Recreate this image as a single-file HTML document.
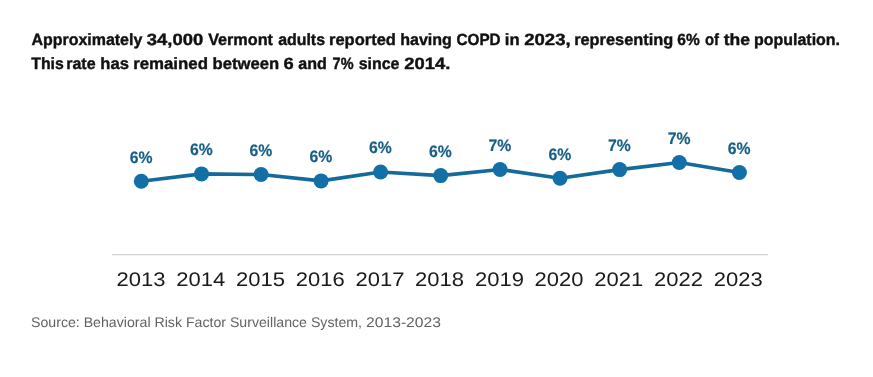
<!DOCTYPE html>
<html><head><meta charset="utf-8"><style>
html,body{margin:0;padding:0;background:#fff;width:873px;height:377px;overflow:hidden}
svg{display:block;will-change:transform;text-rendering:geometricPrecision}
.t{font-family:"Liberation Sans",sans-serif;font-weight:bold;font-size:16.3px;fill:#111;stroke:#111;stroke-width:0.4}
.dl{font-family:"Liberation Sans",sans-serif;font-weight:bold;font-size:16.6px;fill:#175f86;stroke:#175f86;stroke-width:0.2}
.yr{font-family:"Liberation Sans",sans-serif;font-size:19.6px;fill:#1a1a1a}
.src{font-family:"Liberation Sans",sans-serif;font-size:14px;fill:#626262}
</style></head><body>
<svg width="873" height="377" viewBox="0 0 873 377">
<g class="t">
<text x="31.41" y="45" textLength="110.89" lengthAdjust="spacingAndGlyphs">Approximately</text>
<text x="146.86" y="45" textLength="56.31" lengthAdjust="spacingAndGlyphs">34,000</text>
<text x="208.14" y="45" textLength="64.85" lengthAdjust="spacingAndGlyphs">Vermont</text>
<text x="278.17" y="45" textLength="46.86" lengthAdjust="spacingAndGlyphs">adults</text>
<text x="329.02" y="45" textLength="66.85" lengthAdjust="spacingAndGlyphs">reported</text>
<text x="400.19" y="45" textLength="51.69" lengthAdjust="spacingAndGlyphs">having</text>
<text x="456.54" y="45" textLength="44.09" lengthAdjust="spacingAndGlyphs">COPD</text>
<text x="504.87" y="45" textLength="14.74" lengthAdjust="spacingAndGlyphs">in</text>
<text x="524.22" y="45" textLength="46.47" lengthAdjust="spacingAndGlyphs">2023,</text>
<text x="574.17" y="45" textLength="99.01" lengthAdjust="spacingAndGlyphs">representing</text>
<text x="677.29" y="45" textLength="22.41" lengthAdjust="spacingAndGlyphs">6%</text>
<text x="705.03" y="45" textLength="14.03" lengthAdjust="spacingAndGlyphs">of</text>
<text x="723.75" y="45" textLength="26.28" lengthAdjust="spacingAndGlyphs">the</text>
<text x="754.04" y="45" textLength="85.97" lengthAdjust="spacingAndGlyphs">population.</text>
<text x="31.29" y="69" textLength="32.52" lengthAdjust="spacingAndGlyphs">This</text>
<text x="66.19" y="69" textLength="29.39" lengthAdjust="spacingAndGlyphs">rate</text>
<text x="100.33" y="69" textLength="28.58" lengthAdjust="spacingAndGlyphs">has</text>
<text x="133.16" y="69" textLength="74.8" lengthAdjust="spacingAndGlyphs">remained</text>
<text x="212.62" y="69" textLength="66.51" lengthAdjust="spacingAndGlyphs">between</text>
<text x="283.63" y="69" textLength="10.21" lengthAdjust="spacingAndGlyphs">6</text>
<text x="298.29" y="69" textLength="28.57" lengthAdjust="spacingAndGlyphs">and</text>
<text x="332.61" y="69" textLength="20.93" lengthAdjust="spacingAndGlyphs">7%</text>
<text x="358.64" y="69" textLength="40.83" lengthAdjust="spacingAndGlyphs">since</text>
<text x="404.3" y="69" textLength="45.98" lengthAdjust="spacingAndGlyphs">2014.</text>
</g>
<line x1="112" y1="254.6" x2="768" y2="254.6" stroke="#d2d2d2" stroke-width="1.4"/>
<polyline points="141.3,181.3 201.5,173.9 261.1,174.5 321.1,180.9 380.6,172.0 440.7,175.6 500.1,169.5 560.0,178.2 619.7,169.6 679.3,162.5 739.4,172.5" fill="none" stroke="#146a98" stroke-width="3.6" stroke-linejoin="round"/>
<g fill="#1370a6">
<circle cx="141.3" cy="181.3" r="7.5"/>
<circle cx="201.5" cy="173.9" r="7.5"/>
<circle cx="261.1" cy="174.5" r="7.5"/>
<circle cx="321.1" cy="180.9" r="7.5"/>
<circle cx="380.6" cy="172.0" r="7.5"/>
<circle cx="440.7" cy="175.6" r="7.5"/>
<circle cx="500.1" cy="169.5" r="7.5"/>
<circle cx="560.0" cy="178.2" r="7.5"/>
<circle cx="619.7" cy="169.6" r="7.5"/>
<circle cx="679.3" cy="162.5" r="7.5"/>
<circle cx="739.4" cy="172.5" r="7.5"/>
</g>
<g class="dl" text-anchor="middle">
<text x="141.1" y="162.7" textLength="22.8" lengthAdjust="spacingAndGlyphs">6%</text>
<text x="201.3" y="155.3" textLength="22.8" lengthAdjust="spacingAndGlyphs">6%</text>
<text x="260.9" y="155.9" textLength="22.8" lengthAdjust="spacingAndGlyphs">6%</text>
<text x="320.9" y="162.3" textLength="22.8" lengthAdjust="spacingAndGlyphs">6%</text>
<text x="380.4" y="153.4" textLength="22.8" lengthAdjust="spacingAndGlyphs">6%</text>
<text x="440.5" y="157.0" textLength="22.8" lengthAdjust="spacingAndGlyphs">6%</text>
<text x="499.9" y="150.9" textLength="22.8" lengthAdjust="spacingAndGlyphs">7%</text>
<text x="559.8" y="159.6" textLength="22.8" lengthAdjust="spacingAndGlyphs">6%</text>
<text x="619.5" y="151.0" textLength="22.8" lengthAdjust="spacingAndGlyphs">7%</text>
<text x="679.1" y="143.9" textLength="22.8" lengthAdjust="spacingAndGlyphs">7%</text>
<text x="739.2" y="153.9" textLength="22.8" lengthAdjust="spacingAndGlyphs">6%</text>
</g>
<g class="yr" text-anchor="middle">
<text x="141.0" y="286.2" textLength="49.0" lengthAdjust="spacingAndGlyphs">2013</text>
<text x="200.7" y="286.2" textLength="49.0" lengthAdjust="spacingAndGlyphs">2014</text>
<text x="260.5" y="286.2" textLength="49.0" lengthAdjust="spacingAndGlyphs">2015</text>
<text x="320.2" y="286.2" textLength="49.0" lengthAdjust="spacingAndGlyphs">2016</text>
<text x="379.9" y="286.2" textLength="49.0" lengthAdjust="spacingAndGlyphs">2017</text>
<text x="439.6" y="286.2" textLength="49.0" lengthAdjust="spacingAndGlyphs">2018</text>
<text x="499.4" y="286.2" textLength="49.0" lengthAdjust="spacingAndGlyphs">2019</text>
<text x="559.1" y="286.2" textLength="49.0" lengthAdjust="spacingAndGlyphs">2020</text>
<text x="618.8" y="286.2" textLength="49.0" lengthAdjust="spacingAndGlyphs">2021</text>
<text x="678.6" y="286.2" textLength="49.0" lengthAdjust="spacingAndGlyphs">2022</text>
<text x="738.3" y="286.2" textLength="49.0" lengthAdjust="spacingAndGlyphs">2023</text>
</g>
<text class="src" x="31" y="327" textLength="331" lengthAdjust="spacingAndGlyphs">Source: Behavioral Risk Factor Surveillance System,</text>
<text class="src" x="366" y="327" textLength="75" lengthAdjust="spacingAndGlyphs">2013-2023</text>
</svg>
</body></html>
